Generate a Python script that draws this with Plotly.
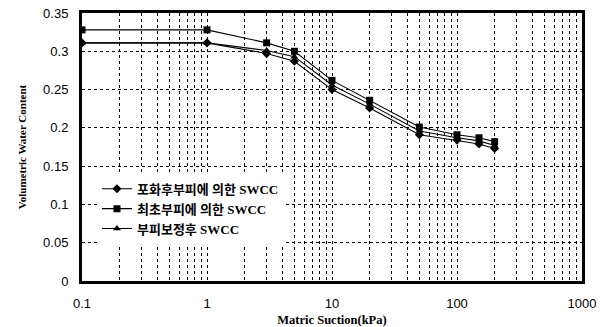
import plotly.graph_objects as go

# Matric suction (kPa) at each measurement step
suction = [0.1, 1, 3, 5, 10, 20, 50, 100, 150, 200]

# Volumetric water content for each SWCC
swcc_saturated = [0.311, 0.311, 0.297, 0.287, 0.250, 0.226, 0.191, 0.184, 0.179, 0.173]
swcc_initial = [0.328, 0.328, 0.311, 0.300, 0.262, 0.236, 0.201, 0.191, 0.187, 0.182]
swcc_corrected = [0.311, 0.311, 0.301, 0.293, 0.256, 0.231, 0.196, 0.187, 0.183, 0.177]

names = ["포화후부피에 의한 SWCC", "최초부피에 의한 SWCC", "부피보정후 SWCC"]
symbols = ["diamond", "square", "triangle-up"]
series = [swcc_saturated, swcc_initial, swcc_corrected]

y_ticks = [0, 0.05, 0.1, 0.15, 0.2, 0.25, 0.3, 0.35]
y_tick_text = ["0", "0.05", "0.1", "0.15", "0.2", "0.25", "0.3", "0.35"]

# Log axis: labelled decades plus unlabelled 2..9 positions for the dotted grid
decades = [0.1, 1, 10, 100]
x_ticks, x_tick_text = [], []
for d in decades:
    for m in range(1, 10):
        x_ticks.append(d * m)
        x_tick_text.append(f"{d:g}" if m == 1 else "")
x_ticks.append(1000)
x_tick_text.append("1000")

fig = go.Figure()
for name, sym, vals in zip(names, symbols, series):
    fig.add_trace(go.Scatter(
        x=suction, y=vals, name=name, mode="lines+markers",
        line=dict(color="black", width=1.1),
        marker=dict(symbol=sym, size=7, color="black"),
    ))

grid = dict(showgrid=True, gridcolor="black", gridwidth=1, griddash="dot")

fig.update_layout(
    width=611, height=327,
    margin=dict(l=82, r=29, t=13, b=46),
    paper_bgcolor="white", plot_bgcolor="white",
    font=dict(family="Liberation Sans, Arial", size=13, color="black"),
    legend=dict(
        x=0.03, y=0.40, xanchor="left", yanchor="top",
        bgcolor="white", borderwidth=0,
        font=dict(family="Liberation Serif, Noto Sans CJK KR", size=13, color="black", weight="bold"),
        tracegroupgap=0, itemwidth=30,
    ),
    xaxis=dict(
        type="log", range=[-1, 3], automargin=False,
        tickmode="array", tickvals=x_ticks, ticktext=x_tick_text,
        ticks="outside", ticklen=8, tickcolor="rgba(0,0,0,0)",
        showline=True, linecolor="black", linewidth=3, mirror=True,
        zeroline=False,
        title=dict(text="Matric Suction(kPa)",
                   font=dict(family="Liberation Serif, Times New Roman", size=12.5, weight="bold")),
        **grid,
    ),
    yaxis=dict(
        range=[0, 0.35], automargin=False,
        tickmode="array", tickvals=y_ticks, ticktext=y_tick_text,
        ticks="outside", ticklen=8, tickcolor="rgba(0,0,0,0)",
        showline=True, linecolor="black", linewidth=3, mirror=True,
        zeroline=False,
        title=dict(text="Volumetric Water Content",
                   font=dict(family="Liberation Serif, Times New Roman", size=11, weight="bold")),
        **grid,
    ),
    showlegend=True,
)

fig.write_html("out.html")
